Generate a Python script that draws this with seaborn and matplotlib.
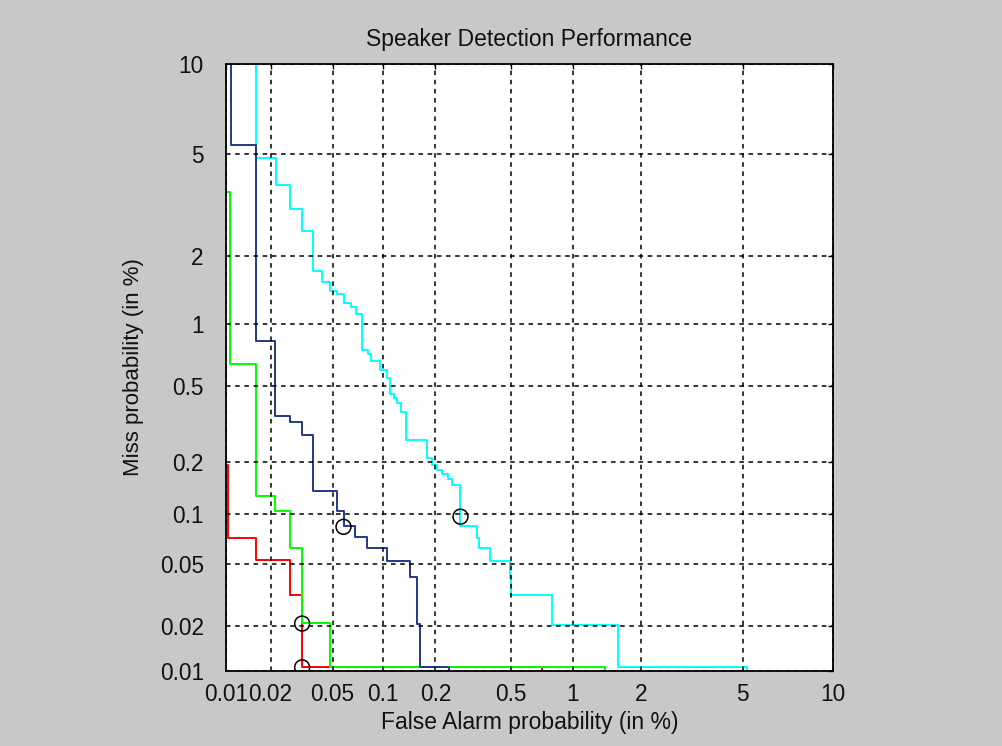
import math
from statistics import NormalDist
import numpy as np
import pandas as pd
import matplotlib
matplotlib.use("Agg")
import matplotlib.pyplot as plt
import seaborn as sns

# ---------------- data (percent) ----------------
tick_vals = [0.01, 0.02, 0.05, 0.1, 0.2, 0.5, 1, 2, 5, 10]
tick_labels = ["0.01", "0.02", "0.05", "0.1", "0.2", "0.5", "1", "2", "5", "10"]

# step-curve corners (steps-post): false alarm %, miss %
navy_fa = [0.0108, 0.0108, 0.0159, 0.0214, 0.0268, 0.0321, 0.0377, 0.0529, 0.0589,
           0.0685, 0.0804, 0.1064, 0.145, 0.158, 0.165, 0.237]
navy_miss = [20, 5.40, 0.835, 0.351, 0.327, 0.279, 0.137, 0.105, 0.0853,
             0.0736, 0.0627, 0.0526, 0.0418, 0.0207, 0.0106, 0.001]

cyan_fa = [0.0159, 0.0159, 0.0216, 0.0268, 0.0321, 0.0377, 0.0428, 0.0481, 0.0531,
           0.0586, 0.0647, 0.0699, 0.0757, 0.0822, 0.0849, 0.0965, 0.1064, 0.1104,
           0.1164, 0.1216, 0.1277, 0.1365, 0.1806, 0.1926, 0.204, 0.2164, 0.234,
           0.246, 0.272, 0.336, 0.344, 0.391, 0.495, 0.5045, 0.794, 1.60, 5.17]
cyan_miss = [20, 4.86, 3.87, 3.13, 2.54, 1.734, 1.554, 1.418, 1.370, 1.247, 1.200,
             1.112, 0.754, 0.719, 0.667, 0.602, 0.548, 0.4546, 0.434, 0.413, 0.369,
             0.262, 0.2085, 0.191, 0.179, 0.170, 0.160, 0.147, 0.0859, 0.0723,
             0.0627, 0.0524, 0.041, 0.032, 0.0206, 0.0107, 0.001]

green_fa = [0.005, 0.0107, 0.0159, 0.0214, 0.0268, 0.0321, 0.0481, 1.406]
green_miss = [3.64, 0.643, 0.1277, 0.105, 0.0627, 0.021, 0.0106, 0.001]

red_fa = [0.005, 0.0104, 0.0159, 0.0268, 0.0319, 0.716]
red_miss = [0.191, 0.0727, 0.0531, 0.032, 0.0106, 0.001]

# operating-point circles
pt_fa = [0.0583, 0.274, 0.0321, 0.0321]
pt_miss = [0.0845, 0.097, 0.0209, 0.0106]

# ---------------- probit scale ----------------
_nd = NormalDist()
_ppf = np.vectorize(_nd.inv_cdf, otypes=[float])
_erf = np.vectorize(math.erf, otypes=[float])


def fwd(p):
    p = np.clip(np.asarray(p, dtype=float) / 100.0, 1e-9, 1 - 1e-9)
    return _ppf(p)


def inv(z):
    z = np.asarray(z, dtype=float)
    return 100.0 * 0.5 * (1.0 + _erf(z / math.sqrt(2.0)))


sns.set_style("white")
plt.rcParams["font.family"] = ["Liberation Sans", "DejaVu Sans"]

BG = "#c8c8c8"
fig = plt.figure(figsize=(10.03, 7.46), dpi=100, facecolor=BG)
ax = fig.add_axes([0.2253, 0.1005, 0.6052, 0.8137])
ax.set_facecolor("white")
ax.set_xscale("function", functions=(fwd, inv))
ax.set_yscale("function", functions=(fwd, inv))

series = [
    (cyan_fa, cyan_miss, "#00ffff"),
    (red_fa, red_miss, "#ff0000"),
    (green_fa, green_miss, "#00ff00"),
    (navy_fa, navy_miss, "#22398a"),
]
for fa, miss, col in series:
    df = pd.DataFrame({"fa": fa, "miss": miss})
    sns.lineplot(data=df, x="fa", y="miss", sort=False, estimator=None,
                 color=col, lw=1.4, drawstyle="steps-post", ax=ax, legend=False)

pts = pd.DataFrame({"fa": pt_fa, "miss": pt_miss})
sns.scatterplot(data=pts, x="fa", y="miss", marker="o", s=115,
                color="black", linewidth=1.1, ax=ax, legend=False, zorder=5)
for coll in ax.collections:
    coll.set_facecolor("none")
    coll.set_edgecolor("black")

ax.set_xlim(0.01, 10)
ax.set_ylim(0.01, 10)
ax.set_xticks(tick_vals)
ax.set_xticklabels(tick_labels)
ax.set_yticks(tick_vals)
ax.set_yticklabels(tick_labels)
ax.minorticks_off()

ax.grid(True, color="black", linestyle=(0, (3, 3)), linewidth=1.1)
ax.set_axisbelow(False)
for sp in ax.spines.values():
    sp.set_visible(True)
    sp.set_color("black")
    sp.set_linewidth(1.3)

ax.tick_params(axis="both", direction="in", length=3.5, width=1, colors="black",
               top=True, right=True, labelsize=16.3, labelcolor="#111111")
ax.tick_params(axis="x", pad=8.5)
ax.tick_params(axis="y", pad=16)

ax.set_title("Speaker Detection Performance", fontsize=16.5, pad=13, color="#111111")
ax.set_xlabel("False Alarm probability (in %)", fontsize=16.5, labelpad=3.5, color="#111111")
ax.set_ylabel("Miss probability (in %)", fontsize=16, labelpad=11, color="#111111")

fig.savefig("out.png", dpi=100, facecolor=BG)
